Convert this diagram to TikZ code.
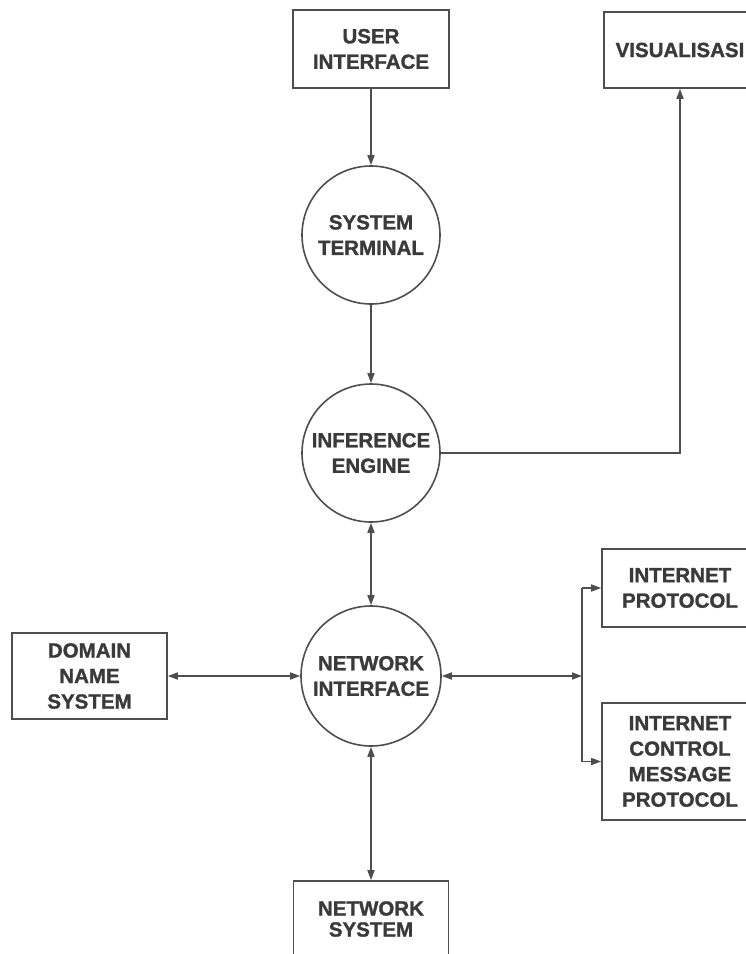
\documentclass[tikz,border=0pt]{standalone}
\usepackage{fontspec}
\setmainfont{Liberation Sans}[BoldFeatures={FakeBold=1.3}]
\usetikzlibrary{arrows.meta,positioning}
\definecolor{ink}{HTML}{3A3A3A}
\definecolor{wire}{HTML}{4E4E4E}
\begin{document}
\begin{tikzpicture}[x=1pt,y=-1pt,
  lbl/.style={text=ink,font=\fontsize{20.5}{25.5}\selectfont\bfseries,align=center,inner sep=0pt},
  boxnode/.style={lbl,draw=wire,line width=1.6pt,rectangle,minimum width=156pt},
  bubble/.style={lbl,draw=wire,line width=1.6pt,circle,minimum size=138pt},
  link/.style={draw=wire,line width=1.6pt},
  tip/.style={-{Triangle[length=10pt,width=7pt]}},
  tips/.style={{Triangle[length=10pt,width=7pt]}-{Triangle[length=10pt,width=7pt]}}]
\useasboundingbox (0,0) rectangle (746,954);
\clip (0,0) rectangle (746,954);

% rectangular blocks
\node[boxnode,minimum height=78pt] (ui) at (371,49) {USER\\INTERFACE};
\node[boxnode,minimum height=76pt,minimum width=152pt] (vis) at (680,50) {VISUALISASI};
\node[boxnode,minimum height=86pt,minimum width=155pt] (dns) at (89.5,676) {DOMAIN\\NAME\\SYSTEM};
\node[boxnode,minimum height=78pt] (ip) at (680,588) {INTERNET\\PROTOCOL};
\node[boxnode,minimum height=117pt] (icmp) at (680,761.5) {INTERNET\\CONTROL\\MESSAGE\\PROTOCOL};
\node[boxnode,minimum height=76pt,minimum width=155pt,
      font=\fontsize{20.5}{21}\selectfont\bfseries] (ns) at (371,919) {NETWORK\\SYSTEM};

% circular processes
\node[bubble] (st) at (371,235) {SYSTEM\\TERMINAL};
\node[bubble] (ie) at (371,453) {INFERENCE\\ENGINE};
\node[bubble,minimum size=140pt] (ni) at (371,676) {NETWORK\\INTERFACE};

% branch point towards the protocol blocks
\coordinate (split) at (582,676);

% connectors
\draw[link,tip] (ui.south) -- (st.north);
\draw[link,tip] (st.south) -- (ie.north);
\draw[link,tip] (ie.east) -| (vis.south);
\draw[link,tips] (ie.south) -- (ni.north);
\draw[link,tips] (dns.east) -- (ni.west);
\draw[link,tips] (ni.south) -- (ns.north);
\draw[link,tips] (ni.east) -- (split);
\draw[link] (ip.west -| split) -- (icmp.west -| split);
\draw[link,tip] (ip.west -| split) -- (ip.west);
\draw[link,tip] (icmp.west -| split) -- (icmp.west);
\end{tikzpicture}
\end{document}
